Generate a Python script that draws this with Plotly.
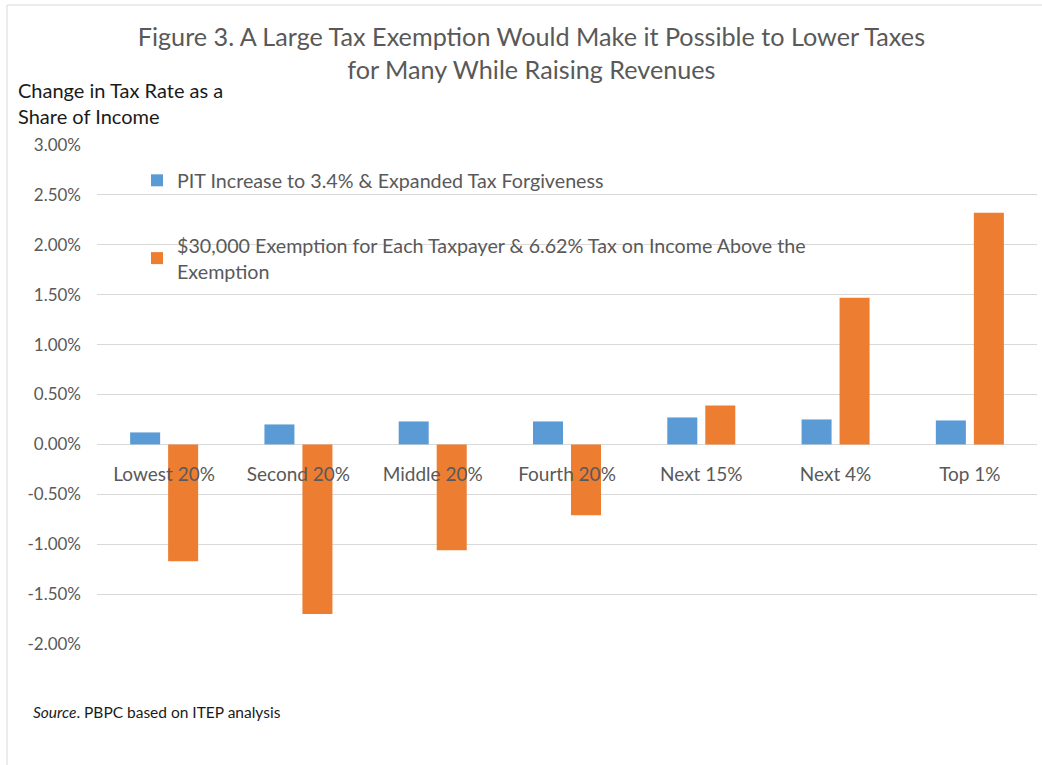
import plotly.graph_objects as go

categories = ["Lowest 20%", "Second 20%", "Middle 20%", "Fourth 20%", "Next 15%", "Next 4%", "Top 1%"]
pit_increase = [0.12, 0.20, 0.23, 0.23, 0.27, 0.25, 0.24]
exemption = [-1.17, -1.70, -1.06, -0.71, 0.39, 1.47, 2.32]
series_names = [
    "PIT Increase to 3.4% & Expanded Tax Forgiveness",
    "$30,000 Exemption for Each Taxpayer & 6.62% Tax on Income Above the<br>Exemption",
]
y_ticks = [-2.0, -1.5, -1.0, -0.5, 0.0, 0.5, 1.0, 1.5, 2.0, 2.5, 3.0]
y_tick_labels = ["-2.00%", "-1.50%", "-1.00%", "-0.50%", "0.00%", "0.50%",
                 "1.00%", "1.50%", "2.00%", "2.50%", "3.00%"]

BLUE = "#5B9BD5"
ORANGE = "#ED7D31"
GRID = "#D9D9D9"
TXT = "#595959"
FONT = "Lato, Open Sans, sans-serif"

W, H = 1042, 765
ML, MR, MT, MB = 97, 5, 145, 121
PW, PH = W - ML - MR, H - MT - MB

def px(x):
    return (x - ML) / PW

def py(y):
    return (H - MB - y) / PH

fig = go.Figure()
fig.add_trace(go.Bar(x=categories, y=pit_increase, name=series_names[0],
                     marker=dict(color=BLUE, line=dict(width=0)), legend="legend"))
fig.add_trace(go.Bar(x=categories, y=exemption, name=series_names[1],
                     marker=dict(color=ORANGE, line=dict(width=0)), legend="legend2"))

fig.update_layout(
    width=W, height=H,
    margin=dict(l=ML, r=MR, t=MT, b=MB),
    paper_bgcolor="white", plot_bgcolor="white",
    barmode="group", bargap=0.434, bargroupgap=0.21,
    font=dict(family=FONT, color=TXT),
    title=dict(text="Figure 3. A Large Tax Exemption Would Make it Possible to Lower Taxes<br>for Many While Raising Revenues",
               x=0.51, xref="container", xanchor="center",
               y=1 - 46 / H, yref="container", yanchor="middle",
               font=dict(size=25.2, color=TXT, family=FONT)),
    xaxis=dict(anchor="free", position=0.4, showgrid=False, showline=False,
               zeroline=False, ticks="", tickfont=dict(size=19, color=TXT),
               ticklabelstandoff=17),
    yaxis=dict(range=[-2.0, 3.0], tickvals=y_ticks, ticktext=y_tick_labels,
               showgrid=True, gridcolor=GRID, gridwidth=1, zeroline=True,
               zerolinecolor=GRID, zerolinewidth=1, showline=False,
               tickfont=dict(size=17, color=TXT), ticklabelstandoff=15),
    legend=dict(x=px(137), y=py(161), xanchor="left", yanchor="top",
                bgcolor="rgba(0,0,0,0)", font=dict(size=19.7, color=TXT), itemwidth=30),
    legend2=dict(x=px(137), y=py(226), xanchor="left", yanchor="top",
                 bgcolor="rgba(0,0,0,0)", font=dict(size=19.7, color=TXT), itemwidth=30),
    showlegend=True,
)

fig.add_annotation(text="Change in Tax Rate as a<br>Share of Income", xref="paper", yref="paper",
                   x=px(16), y=py(103.5), xanchor="left", yanchor="middle", align="left",
                   showarrow=False, font=dict(size=20, color="#1a1a1a", family=FONT))
fig.add_annotation(text="<i>Source</i>. PBPC based on ITEP analysis", xref="paper", yref="paper",
                   x=px(31), y=py(712), xanchor="left", yanchor="middle", align="left",
                   showarrow=False, font=dict(size=15.5, color="#1a1a1a", family=FONT))
fig.add_shape(type="rect", xref="paper", yref="paper",
              x0=px(7), x1=px(1050), y0=py(775), y1=py(5),
              line=dict(color=GRID, width=1), fillcolor="rgba(0,0,0,0)", layer="below")

fig.write_html("out.html")
